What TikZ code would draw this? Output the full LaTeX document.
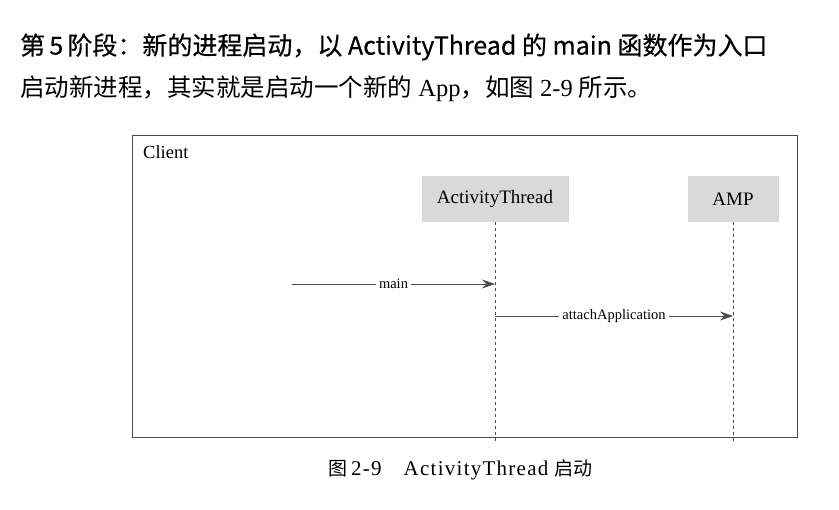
\documentclass[tikz,border=0pt]{standalone}
\usepackage{fontspec}
\setmainfont{Liberation Serif}
\newfontfamily\cjk{Noto Sans CJK SC}
\usetikzlibrary{arrows.meta}
\usetikzlibrary{positioning}

\begin{document}
\begin{tikzpicture}[x=1pt,y=-1pt,
  obj/.style={fill=gray!30, inner sep=0pt, font=\fontsize{19}{20}\selectfont},
  life/.style={dashed, black!70, line width=.6pt},
  msg/.style={black!70, line width=.7pt},
  lbl/.style={fill=white, text=black, inner sep=3pt, font=\fontsize{14.5}{16}\selectfont}]
\def\arrl{13pt}
\def\arrw{9pt}
\useasboundingbox (0,0) rectangle (839,510);
%\draw[red] (0,0) rectangle (839,510);
\node [anchor=west, inner sep=0pt, name=title] at (20,47)
  {\cjk\fontsize{25}{28}\selectfont\addfontfeature{FakeBold=0.5}第\,5\,阶段：新的进程启动，以 ActivityThread 的 main 函数作为入口};
\node [anchor=west, inner sep=0pt, name=intro] at (20,89)
  {\fontsize{24.5}{28}\selectfont{\cjk 启动新进程，其实就是启动一个新的} App{\cjk ，如图} 2-9 {\cjk 所示。}};
\node [draw, black!70, line width=.8pt, minimum width=665pt, minimum height=302pt, anchor=north west, name=client] at (132,135) {};
\node [anchor=north west, inner sep=0pt, font=\fontsize{18.5}{20}\selectfont, name=clientlbl] at (143,145) {Client};
\node [obj, minimum width=147pt, minimum height=46pt, name=at] at (495,199) {ActivityThread};
\node [obj, minimum width=91pt, minimum height=46pt, name=amp] at (733,199) {AMP};
\coordinate (atEnd) at (at.south |- 0,441);
\coordinate (ampEnd) at (amp.south |- 0,441);
\draw [life] (at.south) -- (atEnd);
\draw [life] (amp.south) -- (ampEnd);
\coordinate (mainStart) at (292,284);
\coordinate (mainEnd) at (mainStart -| at.south);
\coordinate (attachStart) at (at.south |- 0,316);
\coordinate (attachEnd) at (attachStart -| amp.south);
\draw [msg, -{Stealth[length=\arrl, width=\arrw]}] (mainStart) -- (mainEnd) node [lbl, midway] {main};
\draw [msg, -{Stealth[length=\arrl, width=\arrw]}] (attachStart) -- (attachEnd) node [lbl, midway] {attachApplication};
\node [anchor=west, inner sep=0pt, font=\fontsize{21}{24}\selectfont, name=caption] at (328,470)
  {{\cjk\fontsize{19}{22}\selectfont 图}\hspace{4pt}{\addfontfeature{LetterSpace=6}2-9\hspace{22pt}ActivityThread}\hspace{6pt}{\cjk\fontsize{19}{22}\selectfont 启动}};
\end{tikzpicture}
\end{document}
